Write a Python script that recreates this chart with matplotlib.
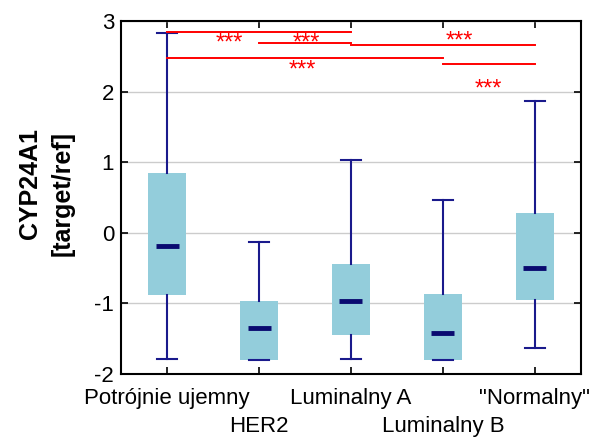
import matplotlib
matplotlib.use("Agg")
import matplotlib.pyplot as plt

plt.rcParams['font.family'] = ['Liberation Sans', 'DejaVu Sans']

categories = ["Potrójnie ujemny", "HER2", "Luminalny A", "Luminalny B", '"Normalny"']
whisker_low = [-1.78, -1.80, -1.78, -1.80, -1.63]
q1 = [-0.88, -1.80, -1.44, -1.80, -0.95]
medians = [-0.18, -1.35, -0.96, -1.42, -0.50]
q3 = [0.85, -0.97, -0.44, -0.86, 0.28]
whisker_high = [2.83, -0.13, 1.03, 0.47, 1.86]

# significance bars: (x_start, x_end, y)
sig_lines = [(1, 3, 2.84), (2, 3, 2.69), (3, 5, 2.66), (1, 4, 2.48), (4, 5, 2.39)]
# star labels: (x, baseline y)
sig_stars = [(1.68, 2.60), (2.52, 2.60), (4.18, 2.62), (2.47, 2.22), (4.49, 1.95)]

fig = plt.figure(figsize=(5.95, 4.37), dpi=100)
ax = fig.add_axes([0.2034, 0.144, 0.773, 0.808])

positions = list(range(1, len(categories) + 1))
stats = []
for i in range(len(categories)):
    stats.append(dict(whislo=whisker_low[i], q1=q1[i], med=medians[i],
                      q3=q3[i], whishi=whisker_high[i], fliers=[]))

navy = '#1a1a8c'
ax.bxp(stats, positions=positions, widths=0.42, patch_artist=True,
       showfliers=False,
       boxprops=dict(facecolor='#93cddb', edgecolor='none', linewidth=0),
       whiskerprops=dict(color=navy, linewidth=1.5),
       capprops=dict(color=navy, linewidth=1.5),
       medianprops=dict(linewidth=0, color='none'),
       capwidths=0.22, zorder=3)
ax.hlines(medians, [p - 0.125 for p in positions], [p + 0.125 for p in positions],
          colors='#0a0a70', linewidth=3.5, zorder=4)

for x0, x1, y in sig_lines:
    ax.plot([x0, x1], [y, y], color='red', linewidth=1.4, zorder=5)
for x, y in sig_stars:
    ax.text(x, y, '***', color='red', fontsize=17, ha='center', va='baseline', zorder=6)

ax.set_xlim(0.5, 5.5)
ax.set_ylim(-2, 3)
ax.set_yticks([-2, -1, 0, 1, 2, 3])
ax.set_yticklabels(['-2', '-1', '0', '1', '2', '3'], fontsize=16)
ax.set_xticks(positions[0::2])
ax.set_xticklabels(categories[0::2], fontsize=16)
ax.set_xticks(positions[1::2], minor=True)
ax.set_xticklabels(categories[1::2], minor=True, fontsize=16)
ax.tick_params(which='both', direction='in', top=True, right=True, length=5, width=1.2)
ax.tick_params(axis='x', which='major', pad=10)
ax.tick_params(axis='x', which='minor', pad=30)
ax.tick_params(axis='y', pad=5)
ax.yaxis.grid(True, color='#cccccc', linewidth=1, zorder=0)
ax.set_axisbelow(True)
for s in ax.spines.values():
    s.set_linewidth(1.5)

fig.text(0.05, 0.579, 'CYP24A1', rotation=90, fontsize=18, fontweight='bold',
         ha='center', va='center')
fig.text(0.105, 0.558, '[target/ref]', rotation=90, fontsize=18, fontweight='bold',
         ha='center', va='center')

fig.savefig('out.png', dpi=100)
